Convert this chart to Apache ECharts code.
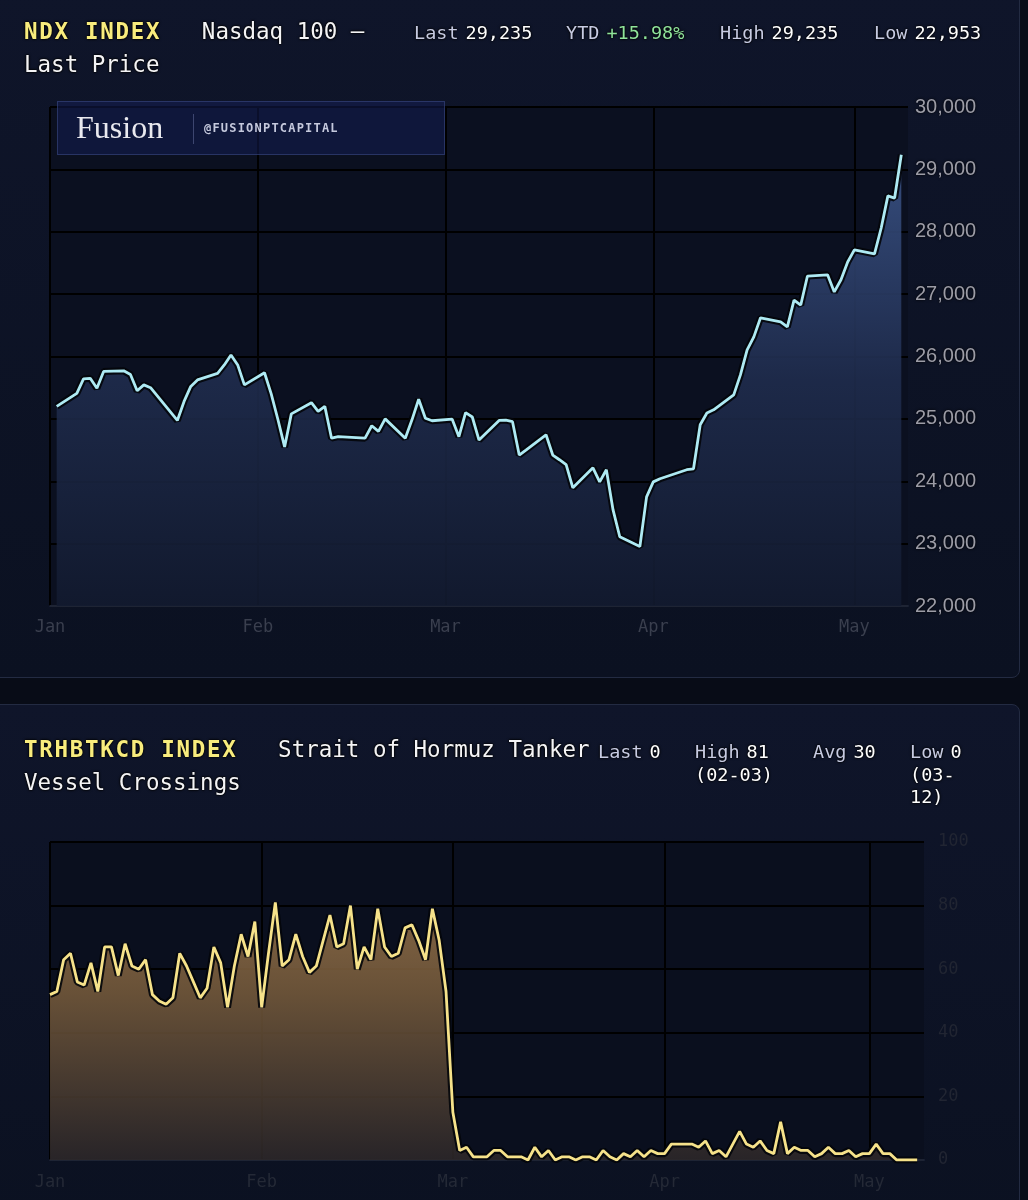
<!DOCTYPE html>
<html lang="en">
<head>
<meta charset="utf-8">
<title>NDX vs Strait of Hormuz tanker crossings</title>
<script src="https://cdn.jsdelivr.net/npm/echarts@6.0.0/dist/echarts.min.js"></script>
<style>
  html, body { margin: 0; padding: 0; }
  body {
    width: 1028px; height: 1200px; position: relative; overflow: hidden;
    background: #080c17;
    font-family: 'DejaVu Sans Mono', monospace;
  }
  .panel {
    position: absolute; box-sizing: border-box;
    border: 1px solid #232b42; border-radius: 8px;
    background: linear-gradient(#0f152a, #0b1121);
  }
  .chart { position: absolute; left: 0; width: 1028px; z-index: 1; }
  .title {
    position: absolute; left: 24px; z-index: 2;
    font-size: 22.5px; line-height: 33px; color: #f4f4f6; white-space: pre;
    text-shadow: 0 0 3px #000, 0 0 2px #000, 0 0 1px #000;
  }
  .title b { color: #f8ec7d; letter-spacing: 1.7px; }
  .stat {
    position: absolute; z-index: 2;
    font-size: 18.5px; line-height: 22.5px; color: #fff; white-space: pre;
    text-shadow: 0 0 3px #000, 0 0 2px #000;
  }
  .stat span { color: #c7cbe2; margin-right: 7px; }
  .stat .up { color: #8fe39a; margin: 0; }
  .logo {
    position: absolute; left: 57px; top: 101px; width: 388px; height: 54px; z-index: 2;
    box-sizing: border-box; border: 1px solid rgba(62, 78, 135, 0.55);
    background: rgba(20, 30, 85, 0.5);
  }
  .logo .name {
    position: absolute; left: 18px; top: 7px;
    font-family: 'Liberation Serif', serif; font-size: 32px; color: #e9e9ef;
  }
  .logo .bar { position: absolute; left: 135px; top: 12px; width: 1px; height: 30px; background: #3d4670; }
  .logo .handle {
    position: absolute; left: 146px; top: 19px;
    font-size: 12px; font-weight: bold; letter-spacing: 1.2px; color: #c5c9dd;
  }
</style>
</head>
<body>
  <div class="panel" style="left:-10px; top:-10px; width:1030px; height:688px;"></div>
  <div class="panel" style="left:-10px; top:704px; width:1030px; height:520px;"></div>

  <div class="title" style="top:15px;"><b>NDX INDEX</b>   Nasdaq 100 —
Last Price</div>
  <div class="stat" style="left:414px; top:22px;"><span>Last</span>29,235</div>
  <div class="stat" style="left:566px; top:22px;"><span>YTD</span><span class="up">+15.98%</span></div>
  <div class="stat" style="left:720px; top:22px;"><span>High</span>29,235</div>
  <div class="stat" style="left:874px; top:22px;"><span>Low</span>22,953</div>

  <div class="logo">
    <div class="name">Fusion</div>
    <div class="bar"></div>
    <div class="handle">@FUSIONPTCAPITAL</div>
  </div>

  <div class="title" style="top:733px;"><b>TRHBTKCD INDEX</b>   Strait of Hormuz Tanker
Vessel Crossings</div>
  <div class="stat" style="left:598px; top:741px;"><span>Last</span>0</div>
  <div class="stat" style="left:695px; top:741px;"><span>High</span>81
(02-03)</div>
  <div class="stat" style="left:813px; top:741px;"><span>Avg</span>30</div>
  <div class="stat" style="left:910px; top:741px;"><span>Low</span>0
(03-
12)</div>

  <div id="ndx" class="chart" style="top:0; height:680px;"></div>
  <div id="tanker" class="chart" style="top:700px; height:500px;"></div>

<script>
const MONTHS = ['Jan', 'Feb', 'Mar', 'Apr', 'May', 'Jun', 'Jul', 'Aug', 'Sep', 'Oct', 'Nov', 'Dec']
const DAY = 24 * 3600 * 1000

// market closed on these weekdays
const marketHolidays = ['2026-01-19', '2026-02-16', '2026-04-03']

// NDX close, one per trading day 2026-01-02 .. 2026-05-08
const ndxLast = [
  25200, 25410, 25640, 25650, 25490, 25760, 25770, 25710, 25450, 25545,
  25500, 24975, 25280, 25520, 25625, 25730, 25865, 26025, 25865, 25545,
  25740, 25400, 24990, 24550, 25080, 25260, 25120, 25200, 24690, 24715,
  24690, 24890, 24800, 25000, 24690, 24985, 25315, 25010, 24970,
  24995, 24715, 25100, 25030, 24660, 24975, 24980, 24955, 24420, 24500,
  24745, 24420, 24345, 24265, 23895, 24215, 23990, 24185, 23540, 23110,
  22953, 23750,
  23990, 24040, 24185, 24200, 24905, 25095, 25145, 25385, 25705, 26105,
  26315, 26620, 26555, 26475, 26905, 26825, 27290, 27310, 27035, 27230,
  27515,
  27710, 27645, 28060, 28575, 28540, 29235
]

// daily tanker crossings 2026-01-01 .. 2026-05-08
const tankerCrossings = [
  52, 53, 63, 65, 56, 55, 62, 53, 67, 67, 58, 68, 61, 60, 63, 52,
  50, 49, 51, 65, 61, 56, 51, 54, 67, 62, 48, 61, 71, 64, 75,
  48, 65, 81, 61, 63, 71, 64, 59, 61, 69, 77, 67, 68, 80, 60, 67, 63,
  79, 67, 64, 65, 73, 74, 69, 63, 79, 69, 53,
  15, 3, 4, 1, 1, 1, 3, 3, 1, 1, 1, 0, 4, 1, 3, 0, 1, 1, 0, 1, 1, 0,
  3, 1, 0, 2, 1, 3, 1, 3, 2,
  2, 5, 5, 5, 5, 4, 6, 2, 3, 1, 5, 9, 5, 4, 6, 3, 2, 12, 2, 4, 3, 3,
  1, 2, 4, 2, 2, 3, 1, 2,
  2, 5, 2, 2, 0, 0, 0, 0
]

const ndxTicks = [22000, 23000, 24000, 25000, 26000, 27000, 28000, 29000, 30000]
const tankerTicks = [0, 20, 40, 60, 80, 100]

function pad (n) { return n < 10 ? '0' + n : '' + n }

function dayList (from, to, tradingOnly) {
  const out = []
  const end = new Date(to[0], to[1] - 1, to[2])
  for (let d = new Date(from[0], from[1] - 1, from[2]); d <= end; d.setDate(d.getDate() + 1)) {
    const key = d.getFullYear() + '-' + pad(d.getMonth() + 1) + '-' + pad(d.getDate())
    if (tradingOnly && (d.getDay() === 0 || d.getDay() === 6 || marketHolidays.includes(key))) continue
    out.push(d.getTime())
  }
  return out
}

const ndxDates = dayList([2026, 1, 2], [2026, 5, 8], true)
const tankerDates = dayList([2026, 1, 1], [2026, 5, 8], false)

function monthAxis (labelColor, labelMargin) {
  return {
    type: 'time',
    min: new Date(2026, 0, 1).getTime(),
    max: new Date(2026, 4, 9).getTime(),
    splitNumber: 5,
    minInterval: 28 * DAY,
    axisLine: { show: true, lineStyle: { color: '#283046', width: 1.5 } },
    axisTick: { show: false },
    splitLine: { show: true, showMaxLine: false, lineStyle: { color: '#000', width: 2 } },
    axisLabel: {
      color: labelColor,
      fontFamily: 'DejaVu Sans Mono',
      fontSize: 17,
      margin: labelMargin,
      showMaxLabel: false,
      formatter: v => MONTHS[new Date(v).getMonth()]
    }
  }
}

function valueAxis (ticks, label) {
  return {
    type: 'value',
    position: 'right',
    min: ticks[0],
    max: ticks[ticks.length - 1],
    interval: ticks[1] - ticks[0],
    axisLine: { show: false },
    axisTick: { show: false },
    splitLine: { show: true, lineStyle: { color: '#000', width: 2 } },
    axisLabel: label
  }
}

// a dark halo line under the coloured one, like the outlined strokes in the source
function outlinedLine (data, color, fill) {
  return [
    {
      type: 'line',
      data: data,
      symbol: 'none',
      silent: true,
      lineStyle: { color: '#03050a', width: 7, opacity: 0.9 },
      areaStyle: fill
    },
    {
      type: 'line',
      data: data,
      symbol: 'none',
      silent: true,
      lineStyle: { color: color, width: 2.8 }
    }
  ]
}

// top: Nasdaq 100
const ndxChart = echarts.init(document.getElementById('ndx'))
ndxChart.setOption({
  animation: false,
  grid: {
    left: 50, top: 107, width: 858, height: 499,
    show: true, backgroundColor: '#0b1020', borderWidth: 0,
    outerBoundsMode: 'none'
  },
  xAxis: monthAxis('#3a3f4e', 13),
  yAxis: valueAxis(ndxTicks, {
    color: '#9c9ca6',
    fontFamily: 'Liberation Sans',
    fontSize: 20,
    margin: 7,
    textShadowColor: '#000',
    textShadowBlur: 3,
    formatter: v => v.toLocaleString('en-US')
  }),
  series: outlinedLine(
    ndxDates.map((t, i) => [t, ndxLast[i]]),
    '#aeeaf3',
    {
      opacity: 0.9,
      color: new echarts.graphic.LinearGradient(0, 0, 0, 1, [
        { offset: 0, color: '#3b5488' },
        { offset: 0.5, color: '#1f2c4d' },
        { offset: 1, color: '#121a2f' }
      ])
    }
  )
})

// bottom: tanker crossings
const tankerChart = echarts.init(document.getElementById('tanker'))
tankerChart.setOption({
  animation: false,
  grid: {
    left: 50, top: 142, width: 874, height: 318,
    show: true, backgroundColor: '#0a0f1e', borderWidth: 0,
    outerBoundsMode: 'none'
  },
  xAxis: monthAxis('#242936', 14),
  yAxis: valueAxis(tankerTicks, {
    color: '#212532',
    fontFamily: 'DejaVu Sans Mono',
    fontSize: 17,
    margin: 14
  }),
  series: outlinedLine(
    tankerDates.map((t, i) => [t, tankerCrossings[i]]),
    '#f6e28a',
    {
      opacity: 0.88,
      color: new echarts.graphic.LinearGradient(0, 0, 0, 1, [
        { offset: 0, color: '#947149' },
        { offset: 0.35, color: '#755a3b' },
        { offset: 1, color: '#2c2729' }
      ])
    }
  )
})
</script>
</body>
</html>
